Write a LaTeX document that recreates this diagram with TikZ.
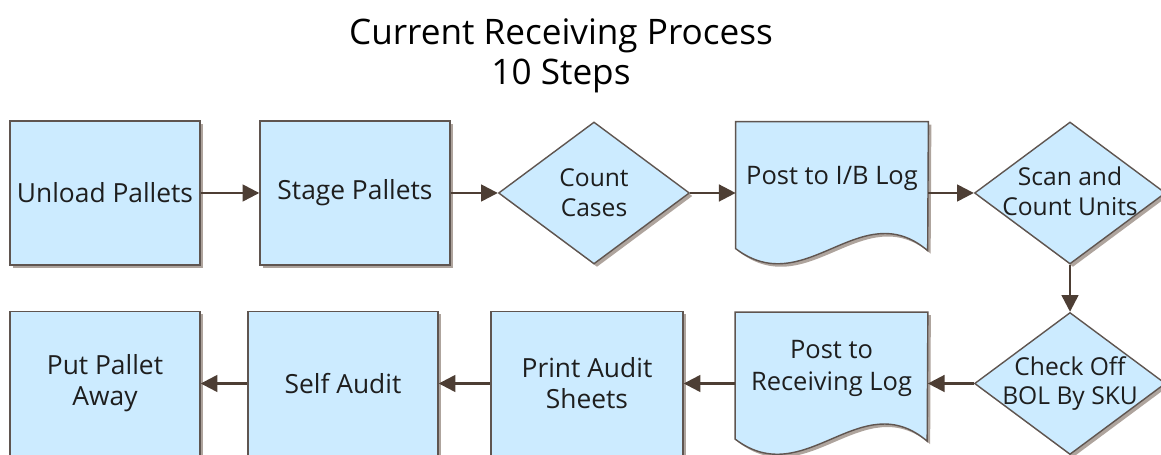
\documentclass[tikz,border=0pt]{standalone}
\usepackage{fontspec}
\setmainfont{Open Sans}
\usetikzlibrary{shapes.geometric, arrows.meta, positioning, calc, shadows}
\definecolor{boxfill}{RGB}{204,235,255}
\definecolor{boxline}{RGB}{95,85,80}
\definecolor{arrowc}{RGB}{77,62,52}
\definecolor{shadowc}{RGB}{140,125,115}
\definecolor{textc}{RGB}{30,30,30}

\begin{document}
\begin{tikzpicture}[font=\fontsize{15}{17.6}\selectfont, text=textc,
    boxshadow/.style={drop shadow={shadow xshift=0.06cm, shadow yshift=-0.06cm, fill=shadowc, opacity=0.7}},
    process/.style={rectangle, draw=boxline, fill=boxfill, line width=0.8pt, minimum width=3.8cm, minimum height=2.88cm, align=center, boxshadow},
    decision/.style={diamond, draw=boxline, fill=boxfill, line width=0.8pt, minimum width=3.82cm, minimum height=2.84cm, inner sep=0pt, aspect=1.34, boxshadow},
    dtext/.style={align=center, font=\fontsize{14}{17}\selectfont},
    docbox/.style={rectangle, minimum width=3.84cm, minimum height=2.84cm, inner sep=0pt},
    doctext/.style={align=center, font=\fontsize{14.5}{18.5}\selectfont},
    flow/.style={-{Triangle[length=9.5pt, width=9.5pt]}, line width=1.4pt, arrowc}
]
\useasboundingbox (0,0) rectangle (23.22,9.1);

% Title
\node[align=center, font=\fontsize{20}{22.8}\selectfont, text=black] (title) at (11.22,7.98) {Current Receiving Process\\10 Steps};

% Top row
\node[process] (unload) at (2.1,5.24) {Unload Pallets};
\node[process] (stage) at (7.1,5.24) {Stage Pallets};
\node[decision] (count) at (11.88,5.24) {};
\node[docbox] (iblog) at (16.64,5.24) {};
\node[decision] (scan) at (21.4,5.24) {};

% Bottom row
\node[decision] (check) at (21.4,1.43) {};
\node[docbox] (reclog) at (16.63,1.43) {};
\node[process, minimum width=3.84cm] (print) at (11.74,1.43) {Print Audit\\Sheets};
\node[process] (self) at (6.86,1.43) {Self Audit};
\node[process] (away) at (2.1,1.43) {Put Pallet\\Away};

% Diamond texts
\node[dtext] (counttxt) at (count.center) {Count\\Cases};
\node[dtext] (scantxt) at ([yshift=0.04cm]scan.center) {Scan and\\Count Units};
\node[dtext] (checktxt) at (check.center) {Check Off\\BOL By SKU};

% Document shapes
\foreach \d in {iblog, reclog} {
  \fill[shadowc, opacity=0.7, transform canvas={shift={(0.06,-0.06)}}] (\d.north west) -- (\d.north east)
    -- ($(\d.north west)+(3.84,-2.58)$) .. controls ($(\d.north west)+(2.5,-1.44)$) and ($(\d.north west)+(1.4,-3.6)$) .. ($(\d.north west)+(0,-2.54)$) -- cycle;
  \draw[boxline, fill=boxfill, line width=0.8pt] (\d.north west) -- (\d.north east)
    -- ($(\d.north west)+(3.84,-2.58)$) .. controls ($(\d.north west)+(2.5,-1.44)$) and ($(\d.north west)+(1.4,-3.6)$) .. ($(\d.north west)+(0,-2.54)$) -- cycle;
}
\node[doctext] (iblogtxt) at ([yshift=0.3cm]iblog.center) {Post to I/B Log};
\node[doctext] (reclogtxt) at ([yshift=0.3cm]reclog.center) {Post to\\Receiving Log};

% Arrows
\draw[flow] (unload.east) -- (stage.west);
\draw[flow] (stage.east) -- (count.west);
\draw[flow] (count.east) -- (iblog.west);
\draw[flow] (iblog.east) -- (scan.west);
\draw[flow] (scan.south) -- (check.north);
\draw[flow] (check.west) -- (reclog.east);
\draw[flow] (reclog.west) -- (print.east);
\draw[flow] (print.west) -- (self.east);
\draw[flow] (self.west) -- (away.east);
\end{tikzpicture}
\end{document}
